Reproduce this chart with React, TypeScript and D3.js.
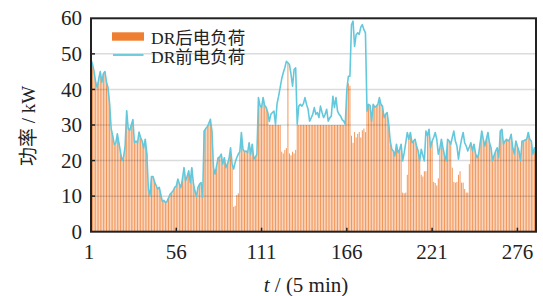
import React from "react";
import * as d3 from "d3";

const xTicks = [1, 56, 111, 166, 221, 276];
const yTicks = [0, 10, 20, 30, 40, 50, 60];
const gridTicks = [10, 20, 30, 40, 50];
const legendLabels = ["DR后电负荷", "DR前电负荷"];

// DR前电负荷 (line), t = 1..288
const loadBefore = [
  48.4, 47, 45, 42, 40.5, 43, 45, 42, 44.5, 45, 42, 40.5,
  36, 29, 27, 24.5, 25, 27.5, 25, 22.5, 20, 21, 24, 34,
  29, 28.5, 30, 31.5, 25, 25.5, 25, 28, 26.5, 25.5, 23.5, 26,
  22, 12, 10, 15.5, 15.5, 14, 13, 12, 12.5, 10.5, 8.5, 8.8,
  8.2, 8.5, 9.5, 10.5, 11, 11.5, 12.5, 12.8, 14.8, 13.5, 12.4, 15,
  18, 14.3, 15.5, 17.1, 13.8, 18, 13.8, 11.5, 9.8, 12.5, 13.4, 13.8,
  9.6, 28.3, 29, 29.5, 30.5, 31.6, 28.3, 18, 16.2, 18.5, 20.8, 21,
  21.8, 19, 20.8, 18, 19, 20.5, 23.6, 19, 17.6, 19.5, 20.8, 21.8,
  22.5, 27.9, 23.2, 22.5, 22.7, 22.2, 25, 21.8, 24.6, 20.4, 21, 21.8,
  37.7, 35.5, 34.9, 37.7, 35.5, 34.9, 33.5, 31, 33, 33.5, 33.9, 30.2,
  36, 38.1, 40.5, 43, 44.7, 46.1, 47.9, 47.5, 47, 44.2, 40.9, 45.6,
  46.1, 30.2, 35.3, 35.8, 35.3, 36, 37.7, 35.8, 34.4, 31.1, 32, 33,
  34.9, 33, 33.5, 32.1, 35.3, 33.5, 32.1, 33, 34.4, 31.1, 32, 32.5,
  38.1, 34.9, 37.7, 33.9, 33, 32.5, 31.5, 31.1, 30.2, 40, 43.7, 43.7,
  58.2, 59.2, 52.1, 55.4, 55.9, 55.5, 57.5, 58.2, 56.8, 55.9, 33.9, 35.8,
  35.5, 31.1, 35.8, 35, 35.3, 35.8, 37.7, 35.8, 35.3, 32.1, 33, 33.5,
  30.2, 25.5, 23.2, 22.7, 21.3, 24.6, 22.2, 23, 24.6, 19.9, 22.2, 25,
  27.9, 26, 27.9, 25, 25.5, 26, 24, 22.7, 19.9, 23.2, 21.5, 19.9,
  28.3, 27, 28.8, 23.6, 25.5, 26.5, 27.9, 26, 21.8, 23.5, 26, 23.6,
  21.5, 19.9, 26, 25.5, 24.6, 26.5, 28.3, 25.5, 24.1, 20.4, 23.6, 26,
  27.9, 25, 24.1, 22.7, 23.8, 25, 22.7, 24.6, 22, 20.8, 21.8, 25,
  28.3, 26, 24.1, 26, 27.9, 25, 23.6, 19.9, 21.5, 22.7, 23.6, 20.8,
  28.3, 28.8, 24.6, 25.5, 26, 25.5, 26, 27.4, 23.6, 21.8, 25.5, 24,
  22.7, 19.9, 25.5, 25.5, 25.8, 26, 27.9, 26, 25.5, 21.8, 23.6, 21.3,
];

// DR后电负荷 (bars), t = 1..288
const loadAfter = [
  48.4, 47, 45, 42, 40.5, 43, 45, 42, 44.5, 45, 42, 40.5,
  36, 29, 27, 24.5, 25, 27.5, 25, 22.5, 20, 21, 24, 34,
  29, 28.5, 30, 31.5, 25, 25.5, 25, 28, 26.5, 25.5, 23.5, 26,
  22, 12, 10, 15.5, 15.5, 14, 13, 12, 12.5, 10.5, 8.5, 8.8,
  8.2, 8.5, 9.5, 10.5, 11, 11.5, 12.5, 12.8, 14.8, 13.5, 12.4, 15,
  18, 14.3, 15.5, 17.1, 13.8, 18, 13.8, 11.5, 9.8, 12.5, 13.4, 13.8,
  9.6, 28.3, 29, 29.5, 30.5, 31.6, 28.3, 18, 16.2, 18.5, 20.8, 21,
  21.8, 19, 20.8, 18, 19, 20.5, 23.6, 19, 7, 7.3, 10.3, 10.8,
  22.5, 27.9, 23.2, 22.5, 22.7, 22.2, 25, 21.8, 24.6, 20.4, 21, 21.8,
  37.7, 35.5, 34.9, 37.7, 35.5, 34.9, 33.5, 30, 30, 30, 30, 30,
  30, 30, 30, 22.5, 22, 23, 23.5, 47.5, 22, 21.5, 22.5, 22,
  23, 30, 30, 30, 30, 30, 30, 30, 30, 30, 30, 30,
  30, 30, 30, 30, 30, 30, 30, 30, 30, 30, 30, 30,
  30, 30, 30, 30, 30, 30, 30, 30, 30, 40, 41.7, 41,
  27, 25, 28, 26.5, 27.5, 28, 26.5, 28.5, 29, 28, 33.9, 35.8,
  35.5, 31.1, 35.8, 35, 35.3, 35.8, 37.7, 35.8, 35.3, 32.1, 33, 33.5,
  30.2, 25.5, 23.2, 22.7, 21.3, 24.6, 22.2, 23, 24.6, 11, 10.8, 11,
  16, 26, 27.9, 25, 25.5, 26, 24, 22.7, 19.9, 16, 15.5, 17,
  17, 27, 28.8, 23.6, 25.5, 14, 13.7, 13, 15, 23.5, 26, 23.6,
  21.5, 19.9, 26, 25.5, 24.6, 18, 14, 13.8, 14, 16, 17, 13.8,
  13.8, 12, 11, 11, 19, 25, 22.7, 24.6, 22, 20.8, 21.8, 25,
  28.3, 26, 24.1, 26, 27.9, 25, 23.6, 19.9, 21.5, 22.7, 23.6, 20.8,
  28.3, 28.8, 24.6, 25.5, 26, 25.5, 26, 27.4, 23.6, 21.8, 25.5, 24,
  22.7, 19.9, 25.5, 25.5, 25.8, 26, 27.9, 26, 25.5, 21.8, 23.6, 21.3,
];

const W = 543;
const H = 296;
const M = { left: 91, right: 536, top: 18.3, bottom: 231.7 };
const FONT = "'Liberation Serif', 'Times New Roman', 'Noto Sans CJK SC', serif";
const ORANGE = "#EF7F30";
const BAR = "#F2975A";
const CYAN = "#64C8DC";
const INK = "#222";

export default function App() {
  const x = d3.scaleLinear().domain([1, 288]).range([M.left, M.right]);
  const y = d3.scaleLinear().domain([0, 60]).range([M.bottom, M.top]);
  const idx = d3.range(1, loadBefore.length + 1);
  const bw = 1.0;
  const line = d3
    .line<number>()
    .x((_, i) => x(i + 1))
    .y((d) => y(d));

  return (
    <svg
      width={W}
      height={H}
      style={{ position: "absolute", left: 0, top: 0, background: "#fff" }}
      fontFamily={FONT}
    >
      <defs>
        <clipPath id="plot">
          <rect x={M.left} y={M.top} width={M.right - M.left} height={M.bottom - M.top} />
        </clipPath>
      </defs>
      <g clipPath="url(#plot)">
        {idx.map((t, i) => (
          <rect
            key={t}
            x={x(t) - bw / 2}
            y={y(loadAfter[i])}
            width={bw}
            height={y(0) - y(loadAfter[i])}
            fill={BAR}
          />
        ))}
        {gridTicks.map((v) => (
          <line
            key={v}
            x1={M.left}
            x2={M.right}
            y1={y(v)}
            y2={y(v)}
            stroke="#000"
            strokeOpacity={0.14}
            strokeWidth={1.5}
          />
        ))}
        <path
          d={line(loadBefore) || ""}
          fill="none"
          stroke={CYAN}
          strokeWidth={1.6}
          strokeLinejoin="round"
        />
      </g>
      {/* ticks */}
      {xTicks.map((t) => (
        <g key={t}>
          {t !== 1 && (
            <line x1={x(t)} x2={x(t)} y1={M.bottom} y2={M.bottom - 4} stroke={INK} strokeWidth={1.5} />
          )}
          <text x={x(t) - (t === 1 ? 2 : 0)} y={258.5} textAnchor="middle" fontSize={21} fill={INK}>
            {t}
          </text>
        </g>
      ))}
      {yTicks.map((v) => (
        <g key={v}>
          {v !== 0 && v !== 60 && (
            <line x1={M.left} x2={M.left + 4} y1={y(v)} y2={y(v)} stroke={INK} strokeWidth={1.5} />
          )}
          <text x={82} y={y(v)} dy="0.34em" textAnchor="end" fontSize={21} fill={INK}>
            {v}
          </text>
        </g>
      ))}
      <rect
        x={M.left}
        y={M.top}
        width={M.right - M.left}
        height={M.bottom - M.top}
        fill="none"
        stroke={INK}
        strokeWidth={2}
      />
      {/* legend */}
      <rect x={112} y={32.3} width={32} height={8.4} fill={ORANGE} />
      <text x={151} y={44} fontSize={17.5} fill={INK}>
        {legendLabels[0]}
      </text>
      <line x1={113} x2={143.5} y1={55} y2={55} stroke={CYAN} strokeWidth={1.8} />
      <text x={151} y={62.5} fontSize={17.5} fill={INK}>
        {legendLabels[1]}
      </text>
      {/* axis titles */}
      <text
        transform="translate(35,126) rotate(-90)"
        textAnchor="middle"
        fontSize={19}
        fill={INK}
      >
        功率 / kW
      </text>
      <text x={306} y={291.5} textAnchor="middle" fontSize={21} fill={INK}>
        <tspan fontStyle="italic">t</tspan>
        <tspan> / (5 min)</tspan>
      </text>
    </svg>
  );
}
